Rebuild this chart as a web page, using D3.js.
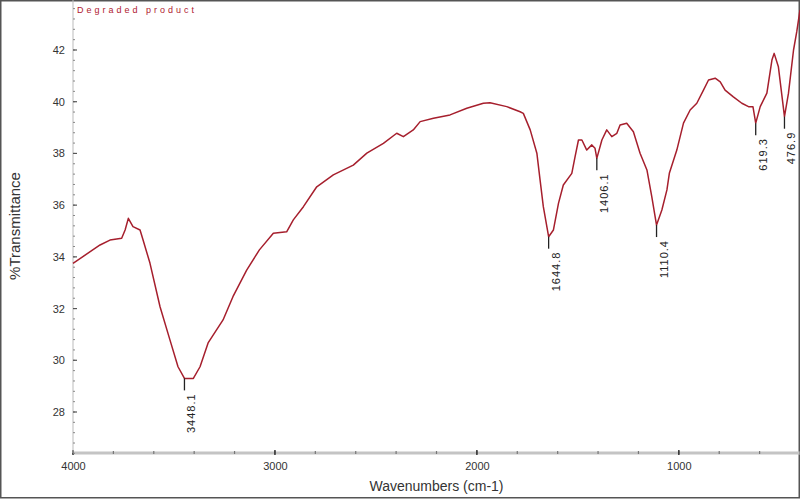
<!DOCTYPE html>
<html><head><meta charset="utf-8">
<script src="https://cdn.jsdelivr.net/npm/d3@7/dist/d3.min.js"></script>
<style>body{margin:0;background:#fff}svg{display:block}</style>
</head><body>
<svg id="c" width="800" height="500"></svg>
<script>
// Spectrum data: wavenumber (cm-1) and %Transmittance
const wavenumbers = [4000,3866,3817,3759,3742,3726,3703,3668,3653,3619,3569,3520,3480,3448.1,3404,3371,3331,3257,3208,3140,3077,3008,2942,2909,2859,2793,2711,2612,2545,2463,2397,2364,2315,2281,2215,2133,2050,1968,1935,1852,1786,1770,1736,1703,1687,1671,1644.8,1621,1596,1572,1530,1514,1497,1480,1456,1431,1415,1406.1,1381,1357,1332,1307,1291,1258,1225,1192,1158,1134,1110.4,1084,1059,1047,1010,977,944,911,878,853,820,795,771,730,688,655,633,619.3,597,564,539,528,507,476.9,457,432,416,400];
const transmittance = [33.75,34.46,34.65,34.72,35.04,35.49,35.17,35.04,34.65,33.76,32.07,30.79,29.75,29.30,29.30,29.75,30.67,31.56,32.46,33.49,34.27,34.91,34.97,35.43,35.94,36.71,37.17,37.55,38.01,38.39,38.78,38.65,38.91,39.23,39.36,39.49,39.75,39.94,39.96,39.81,39.61,39.55,38.91,38.01,36.97,35.94,34.78,35.04,36.07,36.78,37.23,37.87,38.52,38.52,38.13,38.33,38.20,37.81,38.52,38.91,38.65,38.78,39.10,39.17,38.84,38.01,37.36,36.33,35.23,35.81,36.59,37.23,38.13,39.17,39.68,39.94,40.45,40.84,40.91,40.77,40.45,40.19,39.94,39.81,39.81,39.17,39.81,40.33,41.61,41.87,41.35,39.42,40.33,42.0,42.71,43.55];
const peakLabels = ["3448.1","1644.8","1406.1","1110.4","619.3","476.9"];
const peakPositions = [3448.1,1644.8,1406.1,1110.4,619.3,476.9];
const yMajorTicks = [28,30,32,34,36,38,40,42];
const xMajorTicks = [4000,3000,2000,1000];
const titleText = "Degraded product";
const xTitle = "Wavenumbers (cm-1)";
const yTitle = "%Transmittance";

const svg = d3.select("#c");
const mLeft = 73, mRight = 800, mTop = 0, mBottom = 453;
const x = d3.scaleLinear().domain([4000, 400]).range([mLeft, mRight]);
const y = d3.scaleLinear().domain([42, 28]).range([50, 412]);

// outer frame
svg.append("rect").attr("x",0.75).attr("y",0.75).attr("width",798.5).attr("height",497)
  .attr("fill","none").attr("stroke","#555").attr("stroke-width",1.5);

// x axis
const xMinor = d3.range(4000, 399, -200);
const gx = svg.append("g").attr("transform",`translate(0,${mBottom})`);
gx.append("line").attr("x1",mLeft).attr("x2",mRight).attr("stroke","#c4c4c4").attr("stroke-width",3);
gx.selectAll(".mn").data(xMinor).join("line").attr("class","mn")
  .attr("x1",d=>x(d)).attr("x2",d=>x(d)).attr("y1",-2).attr("y2",1).attr("stroke","#777").attr("stroke-width",1.2);
const xAxis = d3.axisBottom(x).tickValues(xMajorTicks).tickSize(0).tickPadding(9).tickFormat(d3.format("d"));
gx.append("g").call(xAxis).call(g=>g.select(".domain").remove())
  .call(g=>g.selectAll("text").attr("font-family","Liberation Sans, Arial").attr("font-size",11).attr("fill","#333"));
gx.selectAll(".mj").data(xMajorTicks).join("line").attr("class","mj")
  .attr("x1",d=>x(d)).attr("x2",d=>x(d)).attr("y1",-3).attr("y2",2).attr("stroke","#333").attr("stroke-width",1.5);

// y axis
const gy = svg.append("g").attr("transform",`translate(${mLeft},0)`);
gy.append("line").attr("y1",mTop).attr("y2",mBottom).attr("stroke","#bbb").attr("stroke-width",1);
const yMinor = d3.range(26.4, 44, 0.4);
gy.selectAll(".mn").data(yMinor).join("line").attr("class","mn")
  .attr("y1",d=>y(d)).attr("y2",d=>y(d)).attr("x1",0).attr("x2",2).attr("stroke","#888").attr("stroke-width",1);
const yAxis = d3.axisLeft(y).tickValues(yMajorTicks).tickSize(0).tickPadding(8).tickFormat(d3.format("d"));
gy.append("g").call(yAxis).call(g=>g.select(".domain").remove())
  .call(g=>g.selectAll("text").attr("font-family","Liberation Sans, Arial").attr("font-size",11).attr("fill","#333"));
gy.selectAll(".mj").data(yMajorTicks).join("line").attr("class","mj")
  .attr("y1",d=>y(d)).attr("y2",d=>y(d)).attr("x1",0).attr("x2",4).attr("stroke","#555").attr("stroke-width",1.2);

// axis titles
svg.append("text").attr("x",(mLeft+mRight)/2).attr("y",491).attr("text-anchor","middle")
  .attr("font-family","Liberation Sans, Arial").attr("font-size",14).attr("fill","#333").text(xTitle);
svg.append("text").attr("transform","translate(20,226) rotate(-90)").attr("text-anchor","middle")
  .attr("font-family","Liberation Sans, Arial").attr("font-size",15).attr("fill","#333").text(yTitle);

// title
svg.append("text").attr("x",77).attr("y",13).attr("font-family","Liberation Sans, Arial")
  .attr("font-size",9).attr("letter-spacing",3).attr("fill","#b02030").text(titleText);

// spectrum line
const data = wavenumbers.map((w,i)=>({w, t: transmittance[i]}));
svg.append("path").datum(data)
  .attr("fill","none").attr("stroke","#a61f2d").attr("stroke-width",1.5).attr("stroke-linejoin","round")
  .attr("d", d3.line().x(d=>x(d.w)).y(d=>y(d.t)));

// peak markers
const lookup = new Map(wavenumbers.map((w,i)=>[w, transmittance[i]]));
peakPositions.forEach((p,i)=>{
  const px = x(p), py = y(lookup.get(p));
  svg.append("line").attr("x1",px).attr("x2",px).attr("y1",py).attr("y2",py+12)
    .attr("stroke","#222").attr("stroke-width",1.3);
  svg.append("text").attr("transform",`translate(${px+11},${py+15}) rotate(-90)`)
    .attr("text-anchor","end").attr("font-family","Liberation Sans, Arial").attr("font-size",11)
    .attr("letter-spacing",1).attr("fill","#222").text(peakLabels[i]);
});
</script>
</body></html>
